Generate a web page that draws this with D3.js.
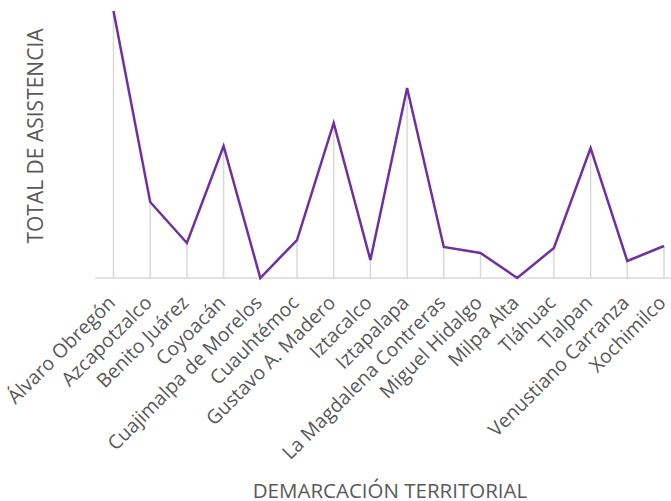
<!DOCTYPE html>
<html><head><meta charset="utf-8">
<script src="https://cdn.jsdelivr.net/npm/d3@7"></script>
<style>body{margin:0;background:#fff}svg{display:block}</style>
</head><body>
<script>
const categories = ["Álvaro Obregón","Azcapotzalco","Benito Juárez","Coyoacán","Cuajimalpa de Morelos","Cuauhtémoc","Gustavo A. Madero","Iztacalco","Iztapalapa","La Magdalena Contreras","Miguel Hidalgo","Milpa Alta","Tláhuac","Tlalpan","Venustiano Carranza","Xochimilco"];
const values = [267, 76, 35, 132, 0, 38, 155, 18, 190, 31, 25, 0, 30, 130, 17, 32];
const xTitle = "DEMARCACIÓN TERRITORIAL";
const yTitle = "TOTAL DE ASISTENCIA";

const W = 671, H = 501;
const svg = d3.select("body").append("svg").attr("width", W).attr("height", H);
const font = "'Open Sans', sans-serif";

const x = d3.scalePoint().domain(categories).range([113.5, 664]);
const y = d3.scaleLinear().domain([0, 278]).range([278, 0]);
const step = x.step();

// baseline
svg.append("line").attr("x1", x(categories[0]) - step/2).attr("x2", x(categories[categories.length-1]) + step/2)
  .attr("y1", y(0)).attr("y2", y(0)).attr("stroke", "#d9d9d9").attr("stroke-width", 1.5);

// drop lines
svg.append("g").selectAll("line").data(categories).join("line")
  .attr("x1", d => x(d)).attr("x2", d => x(d))
  .attr("y1", (d,i) => y(values[i])).attr("y2", y(0))
  .attr("stroke", "#d9d9d9").attr("stroke-width", 1.5);

// line
const line = d3.line().x((d,i) => x(categories[i])).y(d => y(d));
svg.append("path").datum(values).attr("d", line)
  .attr("fill", "none").attr("stroke", "#7030a0").attr("stroke-width", 2.5).attr("stroke-linejoin", "miter");

// tick labels
svg.append("g").selectAll("text").data(categories).join("text")
  .attr("transform", d => `translate(${x(d) + 3},${304}) rotate(-45)`)
  .attr("text-anchor", "end")
  .attr("font-family", font).attr("font-size", 19.5).attr("fill", "#595959")
  .text(d => d);

// axis titles
svg.append("text").attr("x", 390).attr("y", 498).attr("text-anchor", "middle")
  .attr("font-family", font).attr("font-size", 20.5).attr("fill", "#595959").text(xTitle);
svg.append("text").attr("transform", "translate(43,136) rotate(-90)").attr("text-anchor", "middle")
  .attr("font-family", font).attr("font-size", 21).attr("fill", "#595959").text(yTitle);
</script>
</body></html>
